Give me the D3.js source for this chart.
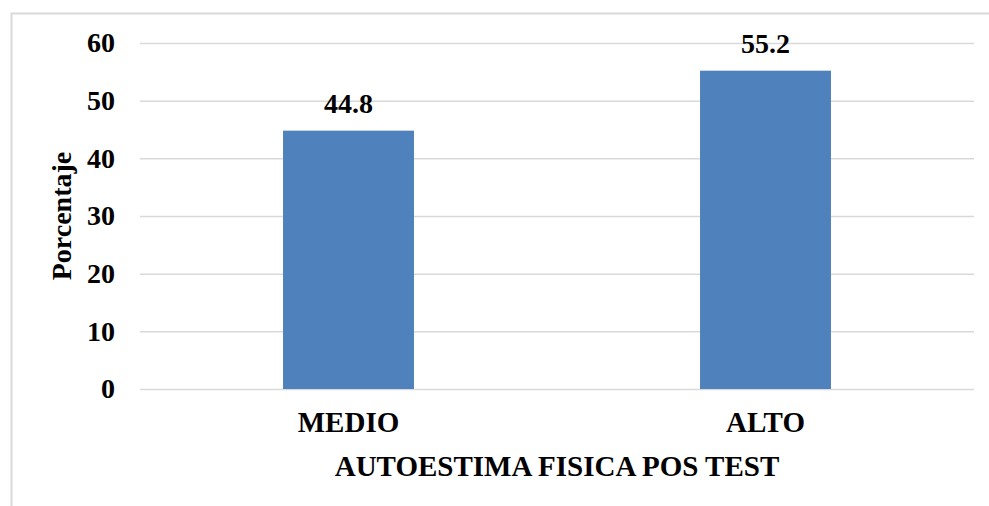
<html lang="es">
<head>
  <meta charset="UTF-8">
  <title>Autoestima fisica pos test</title>
  <script src="https://d3js.org/d3.v7.min.js"></script>
</head>
<style>
  body { margin: 0; background: #fff; }
  text { font-family: "Liberation Serif", "Times New Roman", serif; font-weight: bold; fill: #000; }
  .gridlines line { stroke: #d9d9d9; }
  .gridlines .domain { stroke: none; }
</style>
<body>
  <svg class="chart" width="989" height="506"></svg>
  <script>
    const categories = ['MEDIO', 'ALTO'];
    const values = [44.8, 55.2];
    const yTicks = [0, 10, 20, 30, 40, 50, 60];

    const svg = d3.select('svg.chart');
    const margins = { top: 43, right: 15, bottom: 117, left: 140 };
    const width = +svg.attr('width');
    const height = +svg.attr('height');
    const chartWidth = width - margins.left - margins.right;
    const chartHeight = height - margins.top - margins.bottom;

    // outer frame
    svg.append('rect')
      .attr('x', 11.5).attr('y', 13.5)
      .attr('width', width).attr('height', height)
      .attr('fill', 'none')
      .attr('stroke', '#d9d9d9')
      .attr('stroke-width', 2);

    const chartArea = svg.append('g')
      .attr('transform', `translate(${margins.left},${margins.top})`);

    const xScale = d3.scaleBand().domain(categories).range([0, chartWidth])
      .paddingInner(0.686).paddingOuter(0.343);
    const yScale = d3.scaleLinear().domain([0, 60]).range([chartHeight, 0]);

    let gridlines = d3.axisLeft(yScale)
      .tickValues(yTicks)
      .tickSize(-chartWidth)
      .tickFormat('');
    chartArea.append('g')
      .attr('class', 'gridlines')
      .call(gridlines)
      .selectAll('line').attr('stroke-width', 1.5);

    let leftAxis = d3.axisLeft(yScale).tickValues(yTicks).tickSize(0).tickPadding(25);
    chartArea.append('g')
      .attr('class', 'y axis')
      .call(leftAxis)
      .call(g => g.select('.domain').remove())
      .selectAll('text')
      .style('font-size', '28px')
      .attr('font-family', null);

    let bottomAxis = d3.axisBottom(xScale).tickSize(0).tickPadding(22);
    chartArea.append('g')
      .attr('class', 'x axis')
      .attr('transform', `translate(0,${chartHeight})`)
      .call(bottomAxis)
      .call(g => g.select('.domain').remove())
      .selectAll('text')
      .style('font-size', '29px')
      .attr('font-family', null);

    categories.forEach((c, i) => {
      chartArea.append('rect')
        .attr('x', xScale(c))
        .attr('y', yScale(values[i]))
        .attr('width', xScale.bandwidth())
        .attr('height', chartHeight - yScale(values[i]))
        .style('fill', '#4f81bd');

      chartArea.append('text')
        .attr('x', xScale(c) + xScale.bandwidth() / 2)
        .attr('y', yScale(values[i]) - 18)
        .attr('text-anchor', 'middle')
        .style('font-size', '28px')
        .text(values[i].toFixed(1));
    });

    svg.append('text')
      .attr('x', margins.left + chartWidth / 2)
      .attr('y', 476)
      .attr('text-anchor', 'middle')
      .style('font-size', '29px')
      .text('AUTOESTIMA FISICA POS TEST');

    svg.append('text')
      .attr('transform', `translate(71,${margins.top + chartHeight / 2}) rotate(-90)`)
      .attr('text-anchor', 'middle')
      .style('font-size', '28px')
      .text('Porcentaje');
  </script>
</body>
</html>
